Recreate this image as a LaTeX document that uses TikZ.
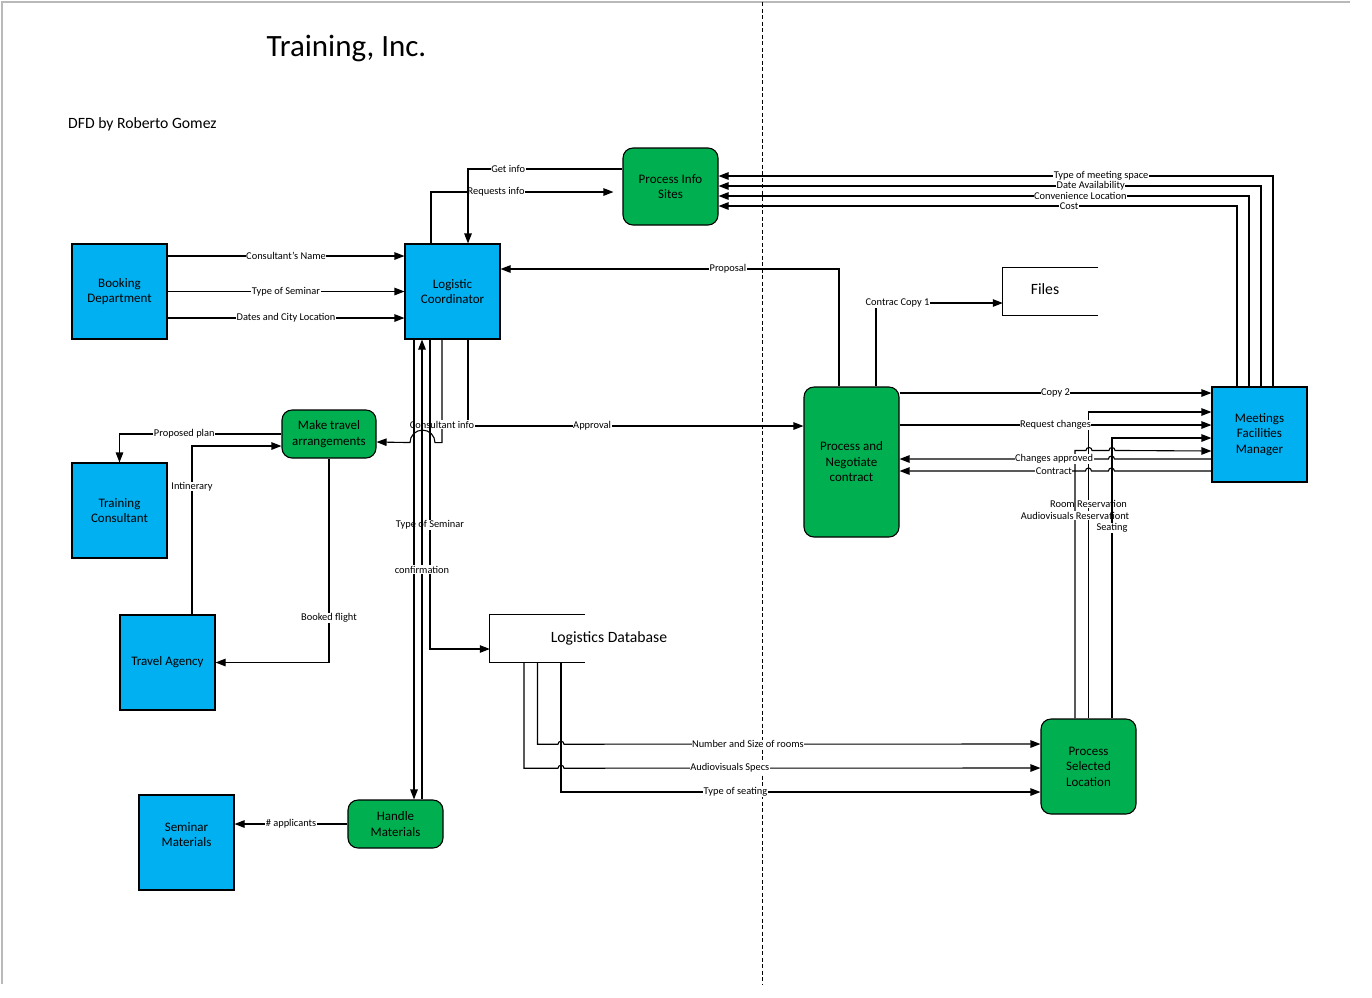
\documentclass[tikz,border=0pt]{standalone}
\usepackage{fontspec}
\setmainfont{Carlito}
\usetikzlibrary{arrows.meta}
\definecolor{dfdblue}{HTML}{00B0F0}
\definecolor{dfdgreen}{HTML}{00B050}
\begin{document}
\begin{tikzpicture}[x=1pt, y=-1pt,
    every node/.style={align=center},
    entity/.style={draw, line width=1.1pt, fill=dfdblue, minimum width=95pt,
      minimum height=95pt, font=\fontsize{13}{15.5}\selectfont},
    proc/.style={draw, line width=1.1pt, fill=dfdgreen, rounded corners=10pt,
      minimum width=95pt, font=\fontsize{13}{15.5}\selectfont},
    store/.style={minimum width=95pt, minimum height=47pt},
    flow/.style={line width=1.1pt, -{Triangle[length=10pt,width=7.5pt]}},
    lbl/.style={fill=white, inner sep=0.5pt, font=\fontsize{10.4}{12}\selectfont}]
  \useasboundingbox (0,0) rectangle (1372,997);
  \draw[gray!55, line width=1.3pt] (1350,2) -- (2,2) -- (2,984);
  \draw[dash pattern=on 4pt off 2.5pt, line width=1pt] (762,2) -- (762,985);

  \node[font=\fontsize{31}{37}\selectfont] (title) at (346.5,48) {Training, Inc.};
  \node[anchor=west, inner sep=0pt, font=\fontsize{15.7}{19}\selectfont] (author) at (68,124) {DFD by Roberto Gomez};

  \node[entity] (bd) at (119.5,291.5) {Booking\\Department};
  \node[entity] (lc) at (452.5,291.5) {Logistic\\Coordinator};
  \node[entity] (tc) at (119.5,510.5) {Training\\Consultant};
  \node[entity] (ta) at (167.5,662.5) {Travel Agency};
  \node[entity] (sm) at (186.5,842.5) {Seminar\\Materials\\\mbox{}};
  \node[entity] (mfm) at (1259.5,434.5) {Meetings\\Facilities\\Manager};
  \node[proc, minimum height=77pt] (pis) at (670.5,186.5) {Process Info\\Sites};
  \node[proc, minimum width=94pt, minimum height=48pt] (mta) at (329,434) {Make travel\\arrangements};
  \node[proc, minimum height=150pt] (pnc) at (851.5,462) {Process and\\Negotiate\\contract};
  \node[proc, minimum height=48pt] (hm) at (395.5,824) {Handle\\Materials};
  \node[proc, minimum height=95pt] (psl) at (1088.5,766.5) {Process\\Selected\\Location};
  \node[store, label={[font=\fontsize{15.7}{18}\selectfont, xshift=-5.5pt, yshift=2pt]center:Files}] (files) at (1050.5,291.5) {};
  \node[store, label={[font=\fontsize{15.7}{18}\selectfont, xshift=71.5pt]center:Logistics Database}] (ldb) at (537.5,638.5) {};
  \draw[line width=1.1pt] (files.north east) -- (files.north west) -- (files.south west) -- (files.south east);
  \draw[line width=1.1pt] (ldb.north east) -- (ldb.north west) -- (ldb.south west) -- (ldb.south east);

  \draw[flow] ([yshift=35.5pt]bd.east) -- node[lbl]{Consultant's Name} ([yshift=35.5pt]lc.west);
  \draw[flow] (bd) -- node[lbl]{Type of Seminar} (lc);
  \draw[flow] ([yshift=-26.5pt]bd.east) -- node[lbl]{Dates and City Location} ([yshift=-26.5pt]lc.west);

  \draw[flow, shorten >=9pt] ([xshift=-21.5pt]lc.north) |- node[lbl,pos=0.67]{Requests info} ([yshift=-5.5pt]pis.west);
  \draw[flow] ([yshift=17.5pt]pis.west) -| node[lbl,pos=0.37]{Get info} ([xshift=15.5pt]lc.north);
  \draw[flow] ([xshift=13.5pt]mfm.north) |- node[lbl,pos=0.655]{Type of meeting space} ([yshift=10.5pt]pis.east);
  \draw[flow] ([xshift=1.5pt]mfm.north) |- node[lbl,pos=0.657]{Date Availability} ([yshift=0.5pt]pis.east);
  \draw[flow] ([xshift=-10.5pt]mfm.north) |- node[lbl,pos=0.659]{Convenience Location} ([yshift=-9.5pt]pis.east);
  \draw[flow] ([xshift=-22.5pt]mfm.north) |- node[lbl,pos=0.662]{Cost} ([yshift=-19.5pt]pis.east);

  \draw[flow] ([xshift=-12.5pt]pnc.north) |- node[lbl,pos=0.664]{Proposal} ([yshift=22.5pt]lc.east);
  \draw[flow] ([xshift=24.5pt]pnc.north) |- node[lbl,pos=0.585]{Contrac Copy 1} ([yshift=-11.5pt]files.west);

  \draw[flow] (psl.north) |- node[lbl,pos=0.35]{Room Reservation} ([yshift=22.5pt]mfm.west);
  \draw[flow] ([xshift=-13.5pt]psl.north) -- node[lbl,pos=0.757]{Audiovisuals Reservationt} ++(0,-268)
    -- ++(11,0) arc (180:360:3) -- ++(17,0) arc (180:360:3) -- ([yshift=-16.5pt]mfm.west);
  \draw[flow] ([xshift=23.5pt]psl.north) |- node[lbl,pos=0.34]{Seating} ([yshift=-3.5pt]mfm.west);

  \draw[flow] ([yshift=69pt]pnc.east) -- node[lbl]{Copy 2} ([yshift=41.5pt]mfm.west);
  \draw[flow] ([yshift=37pt]pnc.east) -- node[lbl]{Request changes} ([yshift=9.5pt]mfm.west);
  \draw[flow] ([yshift=-24.5pt]mfm.west) -- ++(-97,0) arc (0:-180:3)
    -- node[lbl,pos=0.26]{Changes approved} ([yshift=3pt]pnc.east);
  \draw[flow] ([yshift=-36.5pt]mfm.west) -- ++(-97,0) arc (0:-180:3) -- ++(-17,0) arc (0:-180:3)
    -- node[lbl,pos=0.17]{Contract} ([yshift=-9pt]pnc.east);

  \draw[flow] ([xshift=15.5pt]lc.south) |- node[lbl,pos=0.685]{Approval} ([yshift=36pt]pnc.west);
  \draw[flow] ([xshift=-10.5pt]lc.south) -- node[lbl,pos=0.825]{Consultant info} ++(0,103)
    -- ++(-7,0) arc (0:-180:12.5) -- ([yshift=-8pt]mta.east);
  \draw[flow] ([xshift=-22.5pt]lc.south) |- node[lbl,pos=0.3]{Type of Seminar} ([yshift=-10.5pt]ldb.west);
  \draw[flow] ([xshift=-38.5pt]lc.south) -- ([xshift=18.5pt]hm.north);
  \draw[flow] ([xshift=26.5pt]hm.north) -- node[lbl]{confirmation} ([xshift=-30.5pt]lc.south);

  \draw[flow] (mta.west) -| node[lbl,pos=0.3]{Proposed plan} (tc.north);
  \draw[flow] ([xshift=24.5pt]ta.north) |- node[lbl,pos=0.38]{Intinerary} ([yshift=-12pt]mta.west);
  \draw[flow] (mta.south) |- node[lbl,pos=0.39]{Booked flight} (ta.east);
  \draw[flow] (hm.west) -- node[lbl]{\# applicants} ([yshift=18.5pt]sm.east);

  \draw[flow] (ldb.south) -- ++(0,82) -- ++(20.5,0) arc (180:360:3)
    -- node[lbl,pos=0.386]{Number and Size of rooms} ([yshift=22.5pt]psl.west);
  \draw[flow] ([xshift=-13.5pt]ldb.south) -- ++(0,106) -- ++(34,0) arc (180:360:3)
    -- node[lbl,pos=0.348]{Audiovisuals Specs} ([yshift=-1.5pt]psl.west);
  \draw[flow] ([xshift=23.5pt]ldb.south) |- node[lbl,pos=0.682]{Type of seating} ([yshift=-25.5pt]psl.west);
\end{tikzpicture}
\end{document}
